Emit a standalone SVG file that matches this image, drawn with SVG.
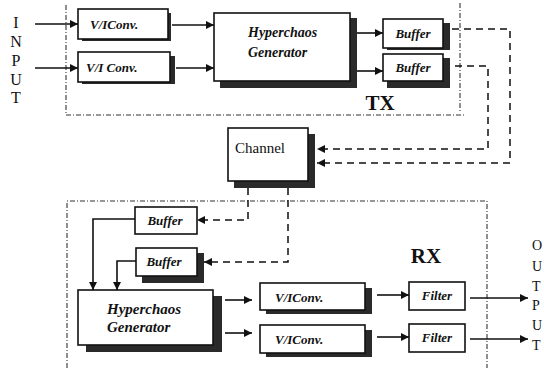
<svg xmlns="http://www.w3.org/2000/svg" width="544" height="368" viewBox="0 0 544 368">
<defs>
<marker id="ah" viewBox="0 0 10 10" refX="10" refY="5" markerWidth="8" markerHeight="8" markerUnits="userSpaceOnUse" orient="auto">
<path d="M0,0 L10,5 L0,10 z" fill="#111"/>
</marker>
</defs>
<style>
.box{fill:#fff;stroke:#111;stroke-width:1.6}
.sh{fill:#2a2a2a}
.lbl{font-family:"Liberation Serif",serif;font-style:italic;font-weight:bold;fill:#111}
.big{font-family:"Liberation Serif",serif;font-weight:bold;fill:#111;font-size:21px}
.let{font-family:"Liberation Serif",serif;fill:#111;font-size:16px}
.out{font-family:"Liberation Serif",serif;fill:#111;font-size:14px}
.bound{fill:none;stroke:#333;stroke-width:1.1;stroke-dasharray:5 2 1 2}
.sol{fill:none;stroke:#111;stroke-width:1.6}
.dsh{fill:none;stroke:#111;stroke-width:1.5;stroke-dasharray:7 5}
</style>
<rect width="544" height="368" fill="#fff"/>

<g id="boundaries">
<polyline class="bound" points="66,5 66,115 466,115"/>
<line class="bound" x1="460" y1="3" x2="460" y2="113"/>
<polyline class="bound" points="67,368 67,201 487,201 487,368"/>
<text class="big" x="380" y="110" text-anchor="middle">TX</text>
<text class="big" x="426" y="263" text-anchor="middle">RX</text>
</g>

<g id="input-label">
<text class="let" x="16" y="28" text-anchor="middle">I</text>
<text class="let" x="16" y="47" text-anchor="middle">N</text>
<text class="let" x="16" y="66" text-anchor="middle">P</text>
<text class="let" x="16" y="85" text-anchor="middle">U</text>
<text class="let" x="16" y="103" text-anchor="middle">T</text>
</g>

<g id="output-label">
<text class="out" x="532" y="250">O</text>
<text class="out" x="532" y="271">U</text>
<text class="out" x="532" y="291">T</text>
<text class="out" x="532" y="310">P</text>
<text class="out" x="532" y="330">U</text>
<text class="out" x="532" y="350">T</text>
</g>

<g id="tx-vi1">
<rect class="sh" x="82" y="13" width="89" height="28"/>
<rect class="box" x="78" y="9" width="90" height="30"/>
<text class="lbl" x="90" y="29" font-size="13">V/IConv.</text>
</g>
<g id="tx-vi2">
<rect class="sh" x="82" y="56" width="93" height="28"/>
<rect class="box" x="78" y="52" width="92" height="30"/>
<text class="lbl" x="86" y="72" font-size="13">V/I Conv.</text>
</g>
<g id="tx-hyper">
<rect class="sh" x="220" y="18" width="137" height="70"/>
<rect class="box" x="214" y="13" width="136" height="68"/>
<text class="lbl" x="248" y="37" font-size="14">Hyperchaos</text>
<text class="lbl" x="248" y="57" font-size="14">Generator</text>
</g>
<g id="tx-buf1">
<rect class="sh" x="387" y="23" width="63" height="27"/>
<rect class="box" x="383" y="19" width="60" height="29"/>
<text class="lbl" x="413" y="38" font-size="13" text-anchor="middle">Buffer</text>
</g>
<g id="tx-buf2">
<rect class="sh" x="387" y="58" width="63" height="30"/>
<rect class="box" x="383" y="54" width="60" height="27"/>
<text class="lbl" x="413" y="72" font-size="13" text-anchor="middle">Buffer</text>
</g>
<g id="channel">
<rect class="sh" x="234" y="134" width="81" height="54"/>
<rect class="box" x="228" y="128" width="80" height="53"/>
<text x="235" y="153" font-family="Liberation Serif, serif" font-size="15" fill="#111">Channel</text>
</g>
<g id="rx-buf1">
<rect class="box" x="135" y="207" width="62" height="27"/>
<text class="lbl" x="165" y="225" font-size="13" text-anchor="middle">Buffer</text>
</g>
<g id="rx-buf2">
<rect class="sh" x="142" y="253" width="62" height="30"/>
<rect class="box" x="136" y="248" width="61" height="28"/>
<text class="lbl" x="164" y="266" font-size="13" text-anchor="middle">Buffer</text>
</g>
<g id="rx-hyper">
<rect class="sh" x="86" y="296" width="136" height="56"/>
<rect class="box" x="78" y="290" width="135" height="55"/>
<text class="lbl" x="107" y="314" font-size="15">Hyperchaos</text>
<text class="lbl" x="107" y="332" font-size="15">Generator</text>
</g>
<g id="rx-vi1">
<rect class="sh" x="266" y="288" width="106" height="26"/>
<rect class="box" x="260" y="283" width="105" height="27"/>
<text class="lbl" x="275" y="302" font-size="13">V/IConv.</text>
</g>
<g id="rx-vi2">
<rect class="sh" x="266" y="330" width="106" height="27"/>
<rect class="box" x="260" y="325" width="105" height="28"/>
<text class="lbl" x="275" y="344" font-size="13">V/IConv.</text>
</g>
<g id="rx-filter1">
<rect class="box" x="409" y="282" width="56" height="28"/>
<text class="lbl" x="437" y="300" font-size="13" text-anchor="middle">Filter</text>
</g>
<g id="rx-filter2">
<rect class="box" x="409" y="324" width="56" height="28"/>
<text class="lbl" x="437" y="342" font-size="13" text-anchor="middle">Filter</text>
</g>

<g id="connectors">
<line class="sol" x1="35" y1="24" x2="78" y2="24" marker-end="url(#ah)"/>
<line class="sol" x1="35" y1="68" x2="78" y2="68" marker-end="url(#ah)"/>
<line class="sol" x1="172" y1="25" x2="214" y2="25" marker-end="url(#ah)"/>
<line class="sol" x1="176" y1="68" x2="214" y2="68" marker-end="url(#ah)"/>
<line class="sol" x1="357" y1="33" x2="383" y2="33" marker-end="url(#ah)"/>
<line class="sol" x1="357" y1="71" x2="383" y2="71" marker-end="url(#ah)"/>
<polyline class="dsh" points="452,29 510,29 510,163 317,163" marker-end="url(#ah)"/>
<polyline class="dsh" points="455,66 488,66 488,149 317,149" marker-end="url(#ah)"/>
<polyline class="dsh" points="248,188 248,220 197,220" marker-end="url(#ah)"/>
<polyline class="dsh" points="288,188 288,262 204,262" marker-end="url(#ah)"/>
<polyline class="sol" points="135,219 93,219 93,290" marker-end="url(#ah)"/>
<polyline class="sol" points="136,261 117,261 117,290" marker-end="url(#ah)"/>
<line class="sol" x1="225" y1="300" x2="252" y2="300" marker-end="url(#ah)"/>
<line class="sol" x1="225" y1="333" x2="252" y2="333" marker-end="url(#ah)"/>
<line class="sol" x1="377" y1="295" x2="409" y2="295" marker-end="url(#ah)"/>
<line class="sol" x1="377" y1="337" x2="409" y2="337" marker-end="url(#ah)"/>
<line class="sol" x1="470" y1="298" x2="528" y2="298" marker-end="url(#ah)"/>
<line class="sol" x1="470" y1="339" x2="528" y2="339" marker-end="url(#ah)"/>
</g>
</svg>
